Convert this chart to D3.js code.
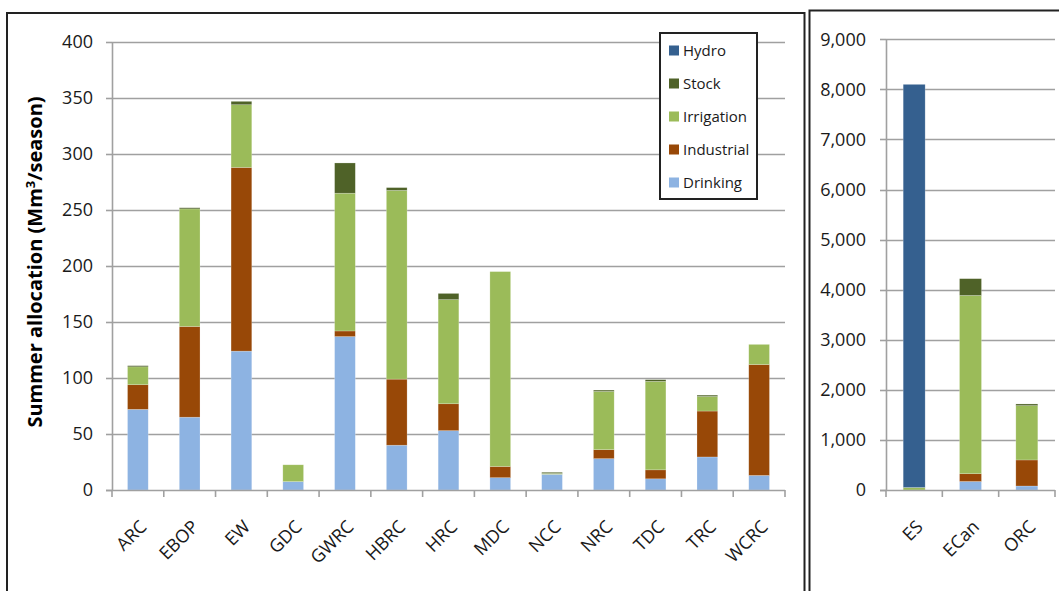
<!DOCTYPE html>
<html><head><meta charset="utf-8">
<script src="https://cdn.jsdelivr.net/npm/d3@7/dist/d3.min.js"></script>
<style>
html,body{margin:0;padding:0;background:#fff;}
svg{display:block;font-family:"Open Sans","Noto Sans",sans-serif;}
</style></head><body>
<svg id="c" width="1059" height="591"></svg>
<script>
// ---- data ----
const seriesNames = ["Drinking", "Industrial", "Irrigation", "Stock", "Hydro"];
const legendOrder = ["Hydro", "Stock", "Irrigation", "Industrial", "Drinking"];
const colors = ["#8DB3E2", "#984807", "#9BBB59", "#4F6228", "#35608F"];

const categoriesLeft = ["ARC","EBOP","EW","GDC","GWRC","HBRC","HRC","MDC","NCC","NRC","TDC","TRC","WCRC"];
const drinkingL   = [72, 65, 124, 7.5, 137, 40, 53, 11, 14, 28, 10, 29.5, 13];
const industrialL = [22, 81, 164, 0, 5, 59, 24, 10, 0, 8, 8, 41, 99];
const irrigationL = [16, 105, 56, 15, 123, 168.5, 93, 174, 0.8, 52, 79, 13, 18];
const stockL      = [1, 1, 3, 0, 27, 2.5, 5.5, 0, 1, 1.2, 1.5, 1.2, 0];
const hydroL      = [0, 0, 0, 0, 0, 0, 0, 0, 0, 0, 0, 0, 0];
const ticksLeft   = [0, 50, 100, 150, 200, 250, 300, 350, 400];

const categoriesRight = ["ES","ECan","ORC"];
const drinkingR   = [0, 170, 80];
const industrialR = [0, 155, 520];
const irrigationR = [50, 3560, 1085];
const stockR      = [0, 335, 33];
const hydroR      = [8050, 0, 0];
const ticksRight  = [0, 1000, 2000, 3000, 4000, 5000, 6000, 7000, 8000, 9000];

const yTitle = "Summer allocation (Mm";
const yTitleSup = "3";
const yTitleEnd = "/season)";

// ---- drawing ----
const svg = d3.select("#c");
const gridCol = "#a0a0a0";
const textCol = "#1a1a1a";

// frames
svg.append("rect").attr("x", 7).attr("y", 13).attr("width", 797.5).attr("height", 600)
  .attr("fill", "none").attr("stroke", "#222").attr("stroke-width", 2);
svg.append("rect").attr("x", 809.5).attr("y", 10.5).attr("width", 300).attr("height", 600)
  .attr("fill", "none").attr("stroke", "#222").attr("stroke-width", 2);

function makeRows(cats, arrs) {
  return cats.map((c, i) => {
    const o = {cat: c};
    seriesNames.forEach((s, k) => o[s] = arrs[k][i]);
    return o;
  });
}

function drawPanel(opt) {
  const g = svg.append("g");
  const x = d3.scaleBand().domain(opt.cats).range([opt.x0, opt.x1])
    .paddingInner(opt.pad).paddingOuter(opt.pad / 2);
  const y = d3.scaleLinear().domain([0, opt.max]).range([opt.y0, opt.y1]);

  // gridlines + y ticks
  g.selectAll("line.grid").data(opt.ticks.filter(t => t > 0)).enter().append("line")
    .attr("x1", opt.x0).attr("x2", opt.x1)
    .attr("y1", d => Math.round(y(d)) + 0.5).attr("y2", d => Math.round(y(d)) + 0.5)
    .attr("stroke", gridCol).attr("stroke-width", 1.6);
  g.selectAll("line.yt").data(opt.ticks).enter().append("line")
    .attr("x1", opt.x0 - 6).attr("x2", opt.x0)
    .attr("y1", d => Math.round(y(d)) + 0.5).attr("y2", d => Math.round(y(d)) + 0.5)
    .attr("stroke", gridCol).attr("stroke-width", 1.6);
  g.selectAll("text.yl").data(opt.ticks).enter().append("text")
    .attr("x", opt.labelX).attr("y", d => y(d)).attr("dy", "0.36em")
    .attr("text-anchor", "end").attr("font-size", 18).attr("fill", textCol)
    .text(d => opt.fmt(d));

  // stacked bars
  const rows = makeRows(opt.cats, opt.arrs);
  const stack = d3.stack().keys(seriesNames)(rows);
  stack.forEach((layer, k) => {
    g.selectAll(null).data(layer.filter(d => d[1] - d[0] > 0)).enter().append("rect")
      .attr("x", d => x(d.data.cat))
      .attr("width", x.bandwidth())
      .attr("y", d => y(d[1]))
      .attr("height", d => y(d[0]) - y(d[1]))
      .attr("fill", colors[k])
      .attr("stroke", "rgba(255,255,255,0.35)").attr("stroke-width", 0.6);
  });

  // axes lines
  g.append("line").attr("x1", opt.x0 + 0.5).attr("x2", opt.x0 + 0.5)
    .attr("y1", opt.y1).attr("y2", opt.y0).attr("stroke", gridCol).attr("stroke-width", 1.6);
  g.append("line").attr("x1", opt.x0 - 6).attr("x2", opt.x1)
    .attr("y1", opt.y0 + 0.5).attr("y2", opt.y0 + 0.5).attr("stroke", gridCol).attr("stroke-width", 1.6);
  const bounds = d3.range(opt.cats.length + 1).map(i => opt.x0 + i * (opt.x1 - opt.x0) / opt.cats.length);
  g.selectAll("line.xt").data(bounds).enter().append("line")
    .attr("x1", d => d).attr("x2", d => d)
    .attr("y1", opt.y0).attr("y2", opt.y0 + 7)
    .attr("stroke", gridCol).attr("stroke-width", 1.6);

  // x labels
  g.selectAll("text.xl").data(opt.cats).enter().append("text")
    .attr("transform", d => `translate(${x(d) + x.bandwidth() / 2 + 1},${opt.y0 + 29}) rotate(-45)`)
    .attr("text-anchor", "end").attr("dy", "0.7em")
    .attr("font-size", 18).attr("fill", textCol).text(d => d);
}

drawPanel({
  cats: categoriesLeft,
  arrs: [drinkingL, industrialL, irrigationL, stockL, hydroL],
  x0: 112, x1: 785, y0: 490, y1: 42, max: 400, pad: 0.6,
  ticks: ticksLeft, labelX: 93, fmt: d3.format("d")
});

drawPanel({
  cats: categoriesRight,
  arrs: [drinkingR, industrialR, irrigationR, stockR, hydroR],
  x0: 886, x1: 1055, y0: 490, y1: 39.3, max: 9000, pad: 0.61,
  ticks: ticksRight, labelX: 866, fmt: d3.format(",")
});

// y title
const t = svg.append("text")
  .attr("transform", "translate(42,262) rotate(-90)")
  .attr("text-anchor", "middle").attr("font-size", 20).attr("font-weight", "bold")
  .attr("fill", "#000");
t.append("tspan").text(yTitle);
t.append("tspan").attr("font-size", 13).attr("dy", -7).text(yTitleSup);
t.append("tspan").attr("dy", 7).text(yTitleEnd);

// legend
const lg = svg.append("g");
lg.append("rect").attr("x", 660).attr("y", 33).attr("width", 97).attr("height", 166)
  .attr("fill", "#fff").attr("stroke", "#222").attr("stroke-width", 2);
legendOrder.forEach((name, i) => {
  const cy = 50.5 + i * 33;
  lg.append("rect").attr("x", 669).attr("y", cy - 5).attr("width", 10).attr("height", 10)
    .attr("fill", colors[seriesNames.indexOf(name)]);
  lg.append("text").attr("x", 683).attr("y", cy).attr("dy", "0.36em")
    .attr("font-size", 15).attr("fill", textCol).text(name);
});
</script>
</body></html>
